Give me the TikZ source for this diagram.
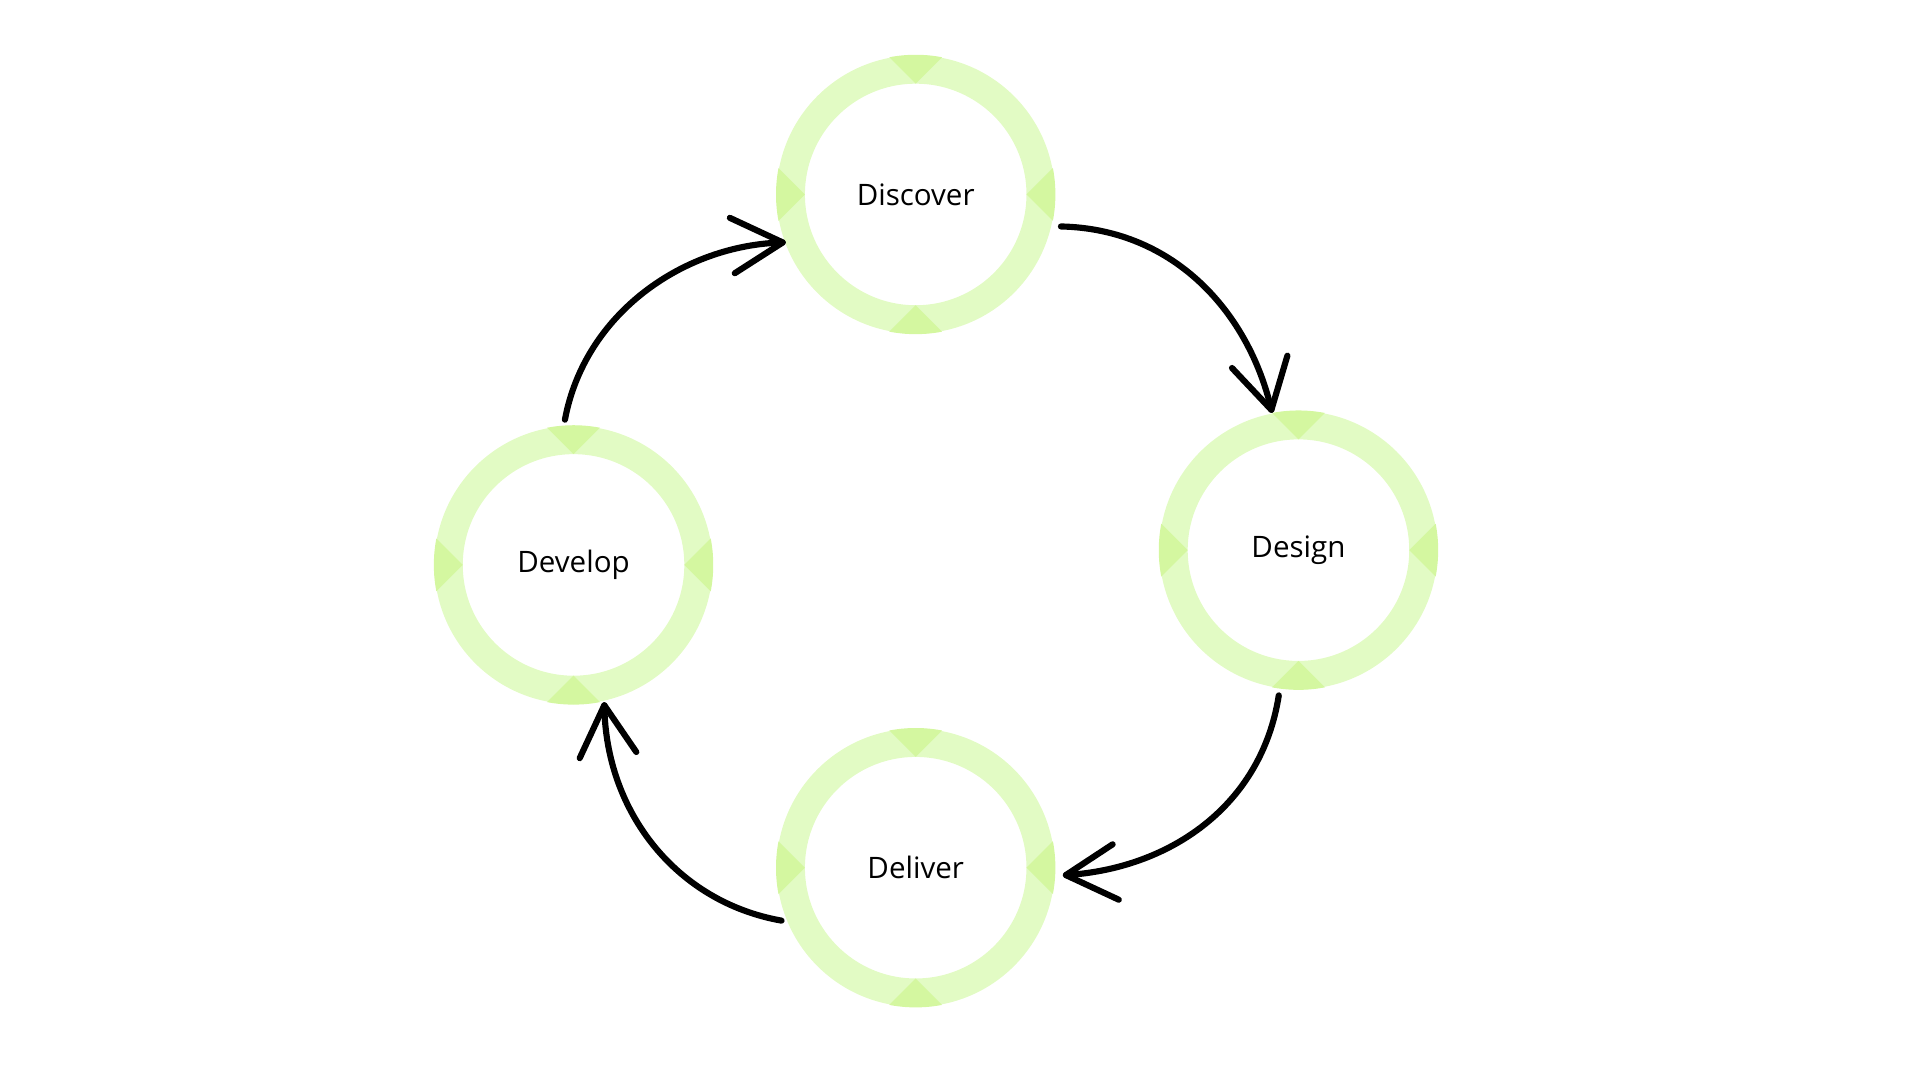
\documentclass[tikz,border=0pt]{standalone}
\usepackage{fontspec}
\setmainfont{Open Sans}
\usetikzlibrary{calc}
\definecolor{ring}{HTML}{E2FBC4}
\definecolor{acc}{HTML}{D4F7A0}
\begin{document}
\begin{tikzpicture}[x=1pt,y=-1pt,
  stage/.style={circle,draw=ring,line width=23pt,minimum size=203pt,inner sep=0pt,font=\fontsize{24}{28}\selectfont},
  flow/.style={line width=5pt,line cap=round,line join=round}]
\useasboundingbox (0,0) rectangle (1560,877.5);
\foreach \n/\x/\y/\t in {disc/744/158/Discover,dsgn/1055/447/Design,delv/744/705/Deliver,devl/466/459/Develop}{
  \node[stage] (\n) at (\x,\y) {\t};
  \begin{scope}
    \clip (\x,\y) circle (113.5);
    \foreach \a in {0,90,180,270}{
      \fill[acc,rotate around={\a:(\x,\y)}] ($(\x,\y)+(90,0)$) -- ($(\x,\y)+(130,40)$) -- ($(\x,\y)+(130,-40)$) -- cycle;
    }
  \end{scope}
}
\coordinate (a1s) at (459,341); \coordinate (a1e) at (636,197);
\coordinate (a1p) at (593,177); \coordinate (a1q) at (597,222);
\coordinate (a2s) at (862,184); \coordinate (a2e) at (1033,333);
\coordinate (a2p) at (1001,299); \coordinate (a2q) at (1046,289);
\coordinate (a3s) at (1039,565); \coordinate (a3e) at (866,711);
\coordinate (a3p) at (904,686); \coordinate (a3q) at (909,731);
\coordinate (a4s) at (635,748); \coordinate (a4e) at (491,573);
\coordinate (a4p) at (471,616); \coordinate (a4q) at (517,611);
\draw[flow] (a1s) .. controls (475,255) and (555,199) .. (a1e);
\draw[flow] (a1p) -- (a1e) -- (a1q);
\draw[flow] (a2s) .. controls (955,186) and (1015,255) .. (a2e);
\draw[flow] (a2p) -- (a2e) -- (a2q);
\draw[flow] (a3s) .. controls (1025,655) and (950,706) .. (a3e);
\draw[flow] (a3p) -- (a3e) -- (a3q);
\draw[flow] (a4s) .. controls (550,733) and (492,660) .. (a4e);
\draw[flow] (a4p) -- (a4e) -- (a4q);
\end{tikzpicture}
\end{document}
